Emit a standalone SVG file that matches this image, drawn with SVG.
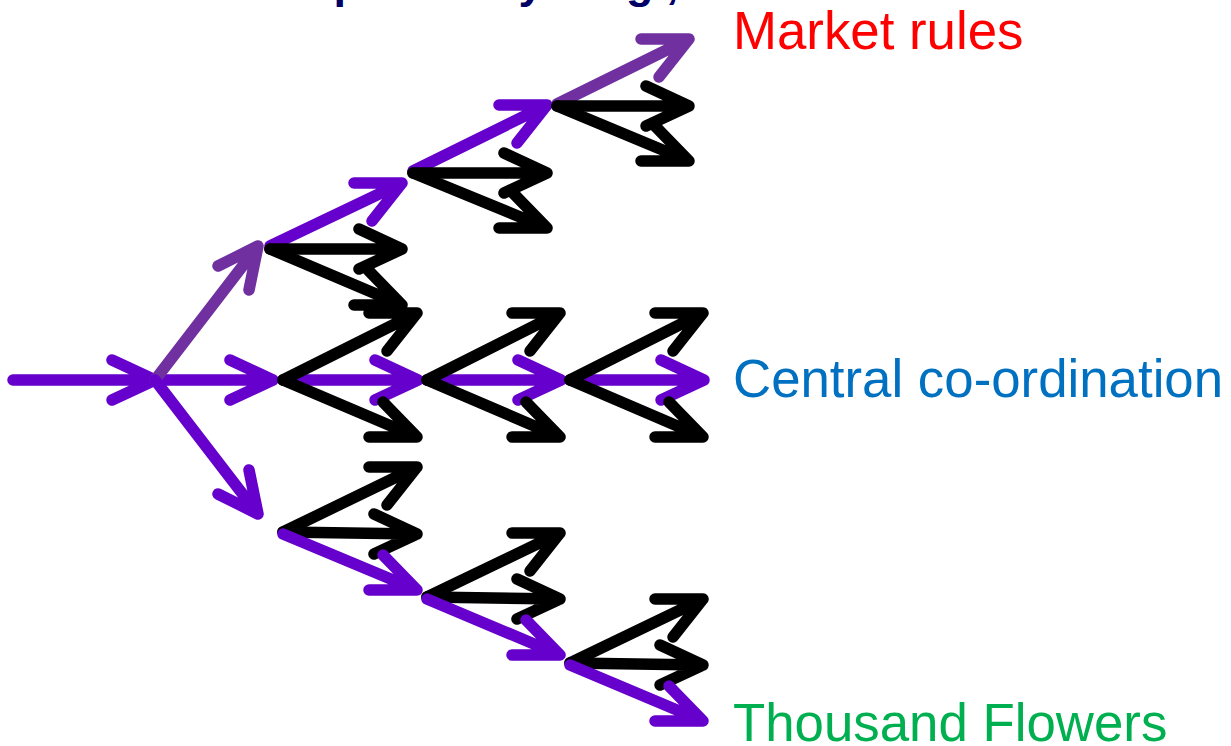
<svg xmlns="http://www.w3.org/2000/svg" width="1231" height="746" viewBox="0 0 1231 746">
  <style>
    .a { fill: none; stroke-width: 11.5; stroke-linecap: round; stroke-linejoin: round; }
    .k { stroke: #000000; }
    .p { stroke: #6600CC; }
    .v { stroke: #7030A0; }
    .lbl { font-family: "Liberation Sans", Arial, sans-serif; font-size: 52.8px; }
    .ttl { font-family: "Liberation Sans", Arial, sans-serif; font-size: 45px; font-weight: bold; fill: #000066; }
  </style>
  <rect width="1231" height="746" fill="#ffffff"/>

  <!-- title running off the top edge -->
  <text class="ttl" x="171" y="-2.5">Path dependency—e.g.,</text>

  <!-- entry trunk and first split -->
  <g id="connectors">
    <path class="a p" d="M13 380 L155 380 M112 360 L155 380 L112 400"/>
    <path class="a p" d="M155 380 L273 380 M230 360 L273 380 L230 400"/>
    <path class="a v" d="M155 380 L258 246 M218 266 L258 246 L249 290"/>
    <path class="a p" d="M155 380 L258 514 M218 494 L258 514 L249 470"/>
  </g>

  <!-- upper path -->
  <g id="node-t1">
    <path class="a p" d="M270 246 L402 183 M354 183 L402 183 L372 221"/>
    <path class="a k" d="M270 249 L402 249 M359 229 L402 249 L359 269"/>
    <path class="a k" d="M270 249 L402 305 M354 305 L402 305 L368 270"/>
  </g>
  <g id="node-t2">
    <path class="a p" d="M413 171 L547 105 M499 105 L547 105 L517 143"/>
    <path class="a k" d="M413 173 L547 173 M504 153 L547 173 L504 193"/>
    <path class="a k" d="M413 173 L547 228 M499 228 L547 228 L513 193"/>
  </g>
  <g id="node-t3">
    <path class="a v" d="M557 104 L689 39 M641 39 L689 39 L659 77"/>
    <path class="a k" d="M557 106 L689 106 M646 86 L689 106 L646 126"/>
    <path class="a k" d="M557 106 L689 161 M641 161 L689 161 L655 126"/>
  </g>

  <!-- middle path -->
  <g id="node-m1">
    <path class="a p" d="M283 380 L418 380 M375 360 L418 380 L375 400"/>
    <path class="a k" d="M283 380 L417 313 M369 313 L417 313 L387 351"/>
    <path class="a k" d="M283 380 L417 437 M369 437 L417 437 L383 402"/>
  </g>
  <g id="node-m2">
    <path class="a p" d="M427 380 L561 380 M518 360 L561 380 L518 400"/>
    <path class="a k" d="M427 380 L560 313 M512 313 L560 313 L530 351"/>
    <path class="a k" d="M427 380 L560 437 M512 437 L560 437 L526 402"/>
  </g>
  <g id="node-m3">
    <path class="a p" d="M570 380 L704 380 M661 360 L704 380 L661 400"/>
    <path class="a k" d="M570 380 L703 313 M655 313 L703 313 L673 351"/>
    <path class="a k" d="M570 380 L703 437 M655 437 L703 437 L669 402"/>
  </g>

  <!-- lower path -->
  <g id="node-b1">
    <path class="a k" d="M283 532 L417 467 M369 467 L417 467 L387 505"/>
    <path class="a k" d="M283 532 L417 534 M374 514 L417 534 L374 554"/>
    <path class="a p" d="M283 534 L417 590 M369 590 L417 590 L383 555"/>
  </g>
  <g id="node-b2">
    <path class="a k" d="M427 597 L560 533 M512 533 L560 533 L530 571"/>
    <path class="a k" d="M427 597 L560 599 M517 579 L560 599 L517 619"/>
    <path class="a p" d="M427 599 L560 655 M512 655 L560 655 L526 620"/>
  </g>
  <g id="node-b3">
    <path class="a k" d="M570 663 L703 599 M655 599 L703 599 L673 637"/>
    <path class="a k" d="M570 663 L703 665 M660 645 L703 665 L660 685"/>
    <path class="a p" d="M570 665 L703 721 M655 721 L703 721 L669 686"/>
  </g>

  <!-- outcome labels -->
  <g id="labels">
    <text class="lbl" x="733" y="49" fill="#FF0000">Market rules</text>
    <text class="lbl" x="733" y="397" fill="#0070C0">Central co-ordination</text>
    <text class="lbl" x="733" y="741" fill="#00B050">Thousand Flowers</text>
  </g>
</svg>
